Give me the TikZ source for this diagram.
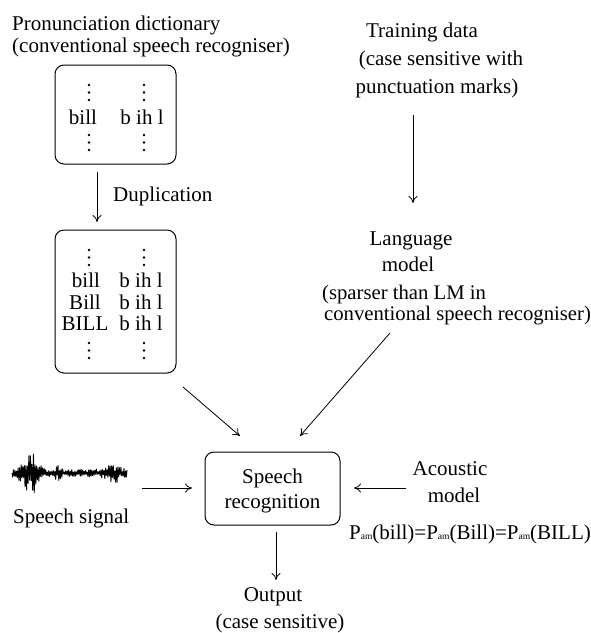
\documentclass[tikz,border=0pt]{standalone}
\usepackage{fontspec}
\setmainfont{Liberation Serif}
\usetikzlibrary{arrows.meta}
\begin{document}
\begin{tikzpicture}[x=1pt,y=-1pt,
  font=\fontsize{21}{24}\selectfont,
  txt/.style={inner sep=0pt, anchor=base},
  txtl/.style={inner sep=0pt, anchor=base west},
  box/.style={draw, line width=1pt, rounded corners=9pt, inner sep=0pt},
  arr/.style={-{To[length=7pt,width=9pt]}, line width=0.8pt},
  dotc/.style={circle, fill, inner sep=0pt, minimum size=2.8pt}]
\useasboundingbox (0,0) rectangle (591,633);

% titles
\node[txtl] (pd1) at (12,30) {Pronunciation dictionary};
\node[txtl] (pd2) at (12,52) {(conventional speech recogniser)};
\node[txt] (td1) at (422,37) {Training data};
\node[txt] (td2) at (441,65) {(case sensitive with};
\node[txt] (td3) at (437,93) {punctuation marks)};

% box 1
\node[box, minimum width=121pt, minimum height=99pt] (box1) at (115.5,114.5) {};
\foreach \xx/\nm in {89/a,144/b}{
  \foreach \yy/\k in {85/1,92.5/2,100/3,135/4,142.5/5,150/6}{
    \node[dotc] (d1\nm\k) at (\xx,\yy) {};
  }
}
\node[txt] (b1w) at (83,124) {bill};
\node[txt] (b1p) at (142,124) {b ih l};

% duplication
\coordinate (du1) at (97,172);
\coordinate (du2) at (97,222);
\draw[arr] (du1) -- (du2);
\node[txtl] (dup) at (113,201) {Duplication};

% box 2
\node[box, minimum width=121pt, minimum height=143pt] (box2) at (115.5,301.5) {};
\foreach \xx/\nm in {89/a,144/b}{
  \foreach \yy/\k in {250/1,257.5/2,265/3,343/4,350.5/5,358/6}{
    \node[dotc] (d2\nm\k) at (\xx,\yy) {};
  }
}
\node[txt] (b2w1) at (86,287) {bill};
\node[txt] (b2w2) at (85,309) {Bill};
\node[txt] (b2w3) at (85,330) {BILL};
\node[txt] (b2p1) at (141,287) {b ih l};
\node[txt] (b2p2) at (141,309) {b ih l};
\node[txt] (b2p3) at (141,330) {b ih l};

% training data -> language model
\coordinate (tl1) at (413,115);
\coordinate (tl2) at (413,203);
\draw[arr] (tl1) -- (tl2);

% language model
\node[txt] (lm1) at (411,245) {Language};
\node[txt] (lm2) at (408,271) {model};
\node[txtl, font=\fontsize{20.7}{24}\selectfont] (lm3) at (322,299) {(sparser than LM in};
\node[txtl, font=\fontsize{20.7}{24}\selectfont] (lm4) at (324,320) {conventional speech recogniser)};

% speech recognition
\node[box, minimum width=135pt, minimum height=73pt] (sr) at (272.5,488.5) {};
\node[txt] (sr1) at (272.5,483) {Speech};
\node[txt] (sr2) at (272.5,508) {recognition};

\coordinate (bs1) at (183,387);
\coordinate (bs2) at (240,436);
\draw[arr] (bs1) -- (bs2);
\coordinate (ls1) at (390,333);
\coordinate (ls2) at (300,436);
\draw[arr] (ls1) -- (ls2);

% speech signal
\pgfmathsetseed{11}
\draw[line width=0.9pt, line join=round] (12,473)
  \foreach \i in {1,...,150}{ -- ({12+\i*0.767}, {473+(2*mod(\i,2)-1)*(4+26*exp(-((\i*0.767-18)/8)^2)+7*exp(-((\i*0.767-102)/9)^2)+6*exp(-((\i*0.767-45)/3)^2))*(0.2+0.8*rnd)}) };
\node[txtl] (ss) at (13,523) {Speech signal};
\coordinate (sg1) at (142,488);
\coordinate (sg2) at (192,488);
\draw[arr] (sg1) -- (sg2);

% acoustic model
\node[txt] (am1) at (450,475) {Acoustic};
\node[txt] (am2) at (454,502) {model};
\coordinate (ac1) at (406,488);
\coordinate (ac2) at (354,488);
\draw[arr] (ac1) -- (ac2);
\node[txtl] (pam) at (349,539) {P{\fontsize{9.5}{10}\selectfont am}(bill)=P{\fontsize{9.5}{10}\selectfont am}(Bill)=P{\fontsize{9.5}{10}\selectfont am}(BILL)};

% output
\coordinate (ou1) at (276,532);
\coordinate (ou2) at (276,580);
\draw[arr] (ou1) -- (ou2);
\node[txt] (out1) at (273,601) {Output};
\node[txt] (out2) at (280,628) {(case sensitive)};
\end{tikzpicture}
\end{document}
